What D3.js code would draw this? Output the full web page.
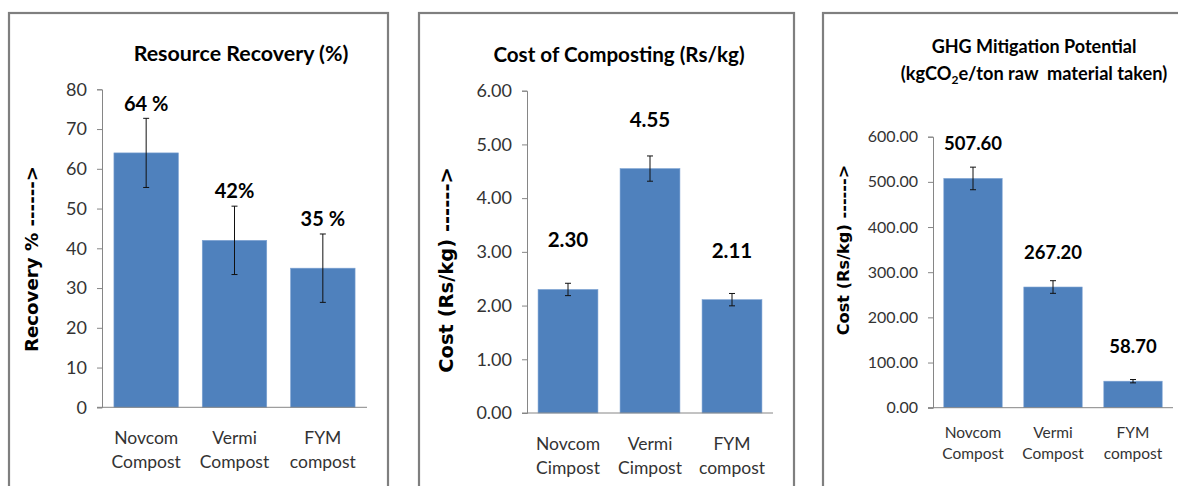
<!DOCTYPE html>
<html><head><meta charset="utf-8">
<script src="https://cdn.jsdelivr.net/npm/d3@7"></script>
<style>
html,body{margin:0;padding:0;background:#fff;}
svg{display:block;}
</style></head>
<body>
<svg id="chart" width="1178" height="486"></svg>
<script>
// ---- data ----
const recoveryCategories = [["Novcom", "Compost"], ["Vermi", "Compost"], ["FYM", "compost"]];
const recoveryValues = [64, 42, 35];
const recoveryErrors = [8.7, 8.6, 8.6];
const recoveryLabels = ["64 %", "42%", "35 %"];
const recoveryTicks = [0, 10, 20, 30, 40, 50, 60, 70, 80];

const costCategories = [["Novcom", "Cimpost"], ["Vermi", "Cimpost"], ["FYM", "compost"]];
const costValues = [2.30, 4.55, 2.11];
const costErrors = [0.115, 0.235, 0.115];
const costLabels = ["2.30", "4.55", "2.11"];
const costTicks = [0, 1, 2, 3, 4, 5, 6];

const ghgCategories = [["Novcom", "Compost"], ["Vermi", "Compost"], ["FYM", "compost"]];
const ghgValues = [507.60, 267.20, 58.70];
const ghgErrors = [25, 14, 3.7];
const ghgLabels = ["507.60", "267.20", "58.70"];
const ghgTicks = [0, 100, 200, 300, 400, 500, 600];

// ---- layout ----
const svg = d3.select("#chart");
const BAR = "#4F81BD";
const AXIS = "#868686";
const FONT = "Lato, 'Open Sans', sans-serif";
const YFONT = "'DejaVu Sans', Verdana, sans-serif";

const panels = [
  {box:[9, 13, 379], x:[102, 367], y:[407.3, 89.3], max:80, ticks:recoveryTicks, fmt:d3.format("d"),
   cats:recoveryCategories, vals:recoveryValues, errs:recoveryErrors, labels:recoveryLabels,
   tickSize:18, catSize:17.5, catY:[37, 61], valSize:20, valOff:42, capW:3,
   title:[{t:"Resource Recovery (%)", x:241, y:61, s:21.4}],
   ytitle:{t:"Recovery % ------>", x:31, y:259, s:18.2}},
  {box:[419, 13, 375], x:[527, 773], y:[413, 90.7], max:6, ticks:costTicks, fmt:d3.format(".2f"),
   cats:costCategories, vals:costValues, errs:costErrors, labels:costLabels,
   tickSize:18, catSize:17.5, catY:[37, 61], valSize:20.5, valOff:42, capW:3,
   title:[{t:"Cost of Composting (Rs/kg)", x:619, y:62, s:20.6}],
   ytitle:{t:"Cost (Rs/kg) ------>", x:446, y:270, s:19.5}},
  {box:[823, 13, 400], x:[933, 1173], y:[407.7, 136.7], max:600, ticks:ghgTicks, fmt:d3.format(".2f"),
   cats:ghgCategories, vals:ghgValues, errs:ghgErrors, labels:ghgLabels,
   tickSize:16, catSize:15.5, catY:[30, 51], valSize:18.5, valOff:28, capW:3,
   title:null,
   ytitle:{t:"Cost (Rs/kg) ------>", x:843.5, y:250, s:16.2}}
];

panels.forEach((p, pi) => {
  const g = svg.append("g");
  // border (runs off the bottom / right of the picture)
  g.append("rect").attr("x", p.box[0]).attr("y", p.box[1]).attr("width", p.box[2]).attr("height", 600)
    .attr("fill", "none").attr("stroke", "#7f7f7f").attr("stroke-width", 2.2);

  const idx = d3.range(p.vals.length);
  const x = d3.scaleBand().domain(idx).range(p.x).paddingInner(0.27).paddingOuter(0.135);
  const y = d3.scaleLinear().domain([0, p.max]).range(p.y);

  // y axis
  const ya = g.append("g").attr("transform", `translate(${p.x[0]},0)`)
    .call(d3.axisLeft(y).tickValues(p.ticks).tickFormat(p.fmt).tickSize(5).tickPadding(10));
  ya.select(".domain").attr("stroke", AXIS);
  ya.selectAll(".tick line").attr("stroke", AXIS);
  ya.selectAll(".tick text").attr("font-family", FONT).attr("font-size", p.tickSize).attr("fill", "#333");

  // bars
  g.selectAll("rect.bar").data(idx).join("rect").attr("class", "bar")
    .attr("x", i => x(i)).attr("width", x.bandwidth())
    .attr("y", i => y(p.vals[i])).attr("height", i => y(0) - y(p.vals[i]))
    .attr("fill", BAR).attr("stroke", "#7ea3d3").attr("stroke-width", 0.6);

  // x axis line
  g.append("line").attr("x1", p.x[0] - 5).attr("x2", p.x[1]).attr("y1", y(0)).attr("y2", y(0))
    .attr("stroke", AXIS);

  // error bars
  idx.forEach(i => {
    const cx = x(i) + x.bandwidth() / 2;
    const hi = y(p.vals[i] + p.errs[i]), lo = y(p.vals[i] - p.errs[i]);
    g.append("line").attr("x1", cx).attr("x2", cx).attr("y1", hi).attr("y2", lo).attr("stroke", "#111").attr("stroke-width", 1);
    [hi, lo].forEach(v => g.append("line").attr("x1", cx - p.capW).attr("x2", cx + p.capW).attr("y1", v).attr("y2", v)
      .attr("stroke", "#111").attr("stroke-width", 1));
  });

  // value labels
  g.selectAll("text.val").data(idx).join("text").attr("class", "val")
    .attr("x", i => x(i) + x.bandwidth() / 2).attr("y", i => y(p.vals[i]) - p.valOff)
    .attr("text-anchor", "middle").attr("font-family", FONT).attr("font-weight", "bold")
    .attr("font-size", p.valSize).attr("fill", "#000").text(i => p.labels[i]);

  // category labels
  idx.forEach(i => {
    const t = g.append("text").attr("text-anchor", "middle").attr("font-family", FONT)
      .attr("font-size", p.catSize).attr("fill", "#333");
    p.cats[i].forEach((line, k) => t.append("tspan").attr("x", x(i) + x.bandwidth() / 2)
      .attr("y", y(0) + p.catY[k]).text(line));
  });

  // titles
  if (p.title) p.title.forEach(tt => g.append("text").attr("x", tt.x).attr("y", tt.y)
    .attr("text-anchor", "middle").attr("font-family", FONT).attr("font-weight", "bold")
    .attr("font-size", tt.s).attr("fill", "#000").text(tt.t));

  // y title
  g.append("text").attr("transform", `translate(${p.ytitle.x},${p.ytitle.y}) rotate(-90)`)
    .attr("text-anchor", "middle").attr("dy", "0.36em").attr("font-family", YFONT).attr("font-weight", "bold")
    .attr("font-size", p.ytitle.s).attr("fill", "#000").text(p.ytitle.t);
});

// GHG title with subscript
svg.append("text").attr("x", 1034).attr("y", 53).attr("text-anchor", "middle").attr("font-family", FONT)
  .attr("font-weight", "bold").attr("font-size", 18).attr("fill", "#000").text("GHG Mitigation Potential");
const t3 = svg.append("text").attr("x", 1034).attr("y", 80).attr("text-anchor", "middle").attr("font-family", FONT)
  .attr("font-weight", "bold").attr("font-size", 18.2).attr("fill", "#000");
t3.append("tspan").text("(kgCO");
t3.append("tspan").attr("font-size", 12).attr("dy", 4).text("2");
t3.append("tspan").attr("dy", -4).text("e/ton raw\u00a0\u00a0material taken)");
</script>
</body></html>
